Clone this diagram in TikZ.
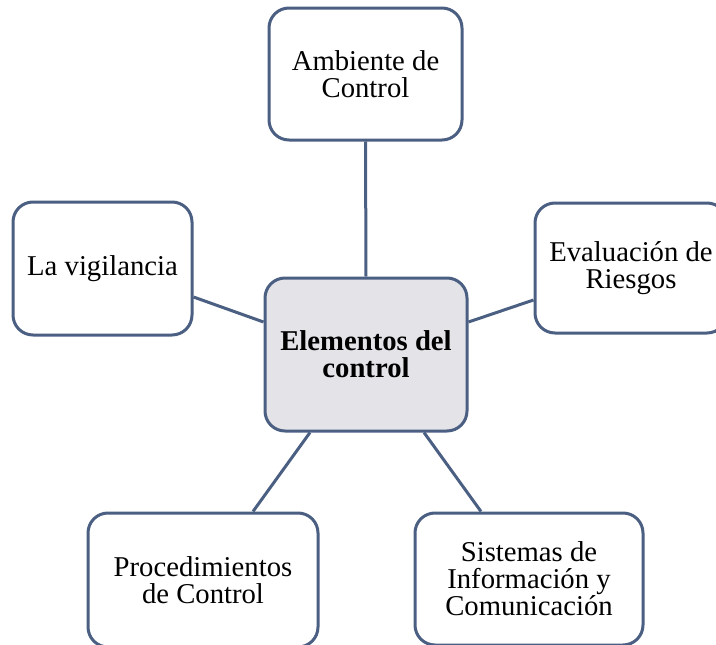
\documentclass[tikz,border=0pt]{standalone}
\usepackage{fontspec}
\setmainfont{Liberation Serif}
\definecolor{edgeblue}{HTML}{4B5F82}
\definecolor{centerfill}{HTML}{E3E3E8}
\tikzset{
  box/.style={draw=edgeblue, line width=3pt, rounded corners=20pt, fill=white,
    align=center, inner sep=0pt, font=\fontsize{28.7}{27}\selectfont},
  mainbox/.style={box, fill=centerfill, font=\fontsize{28.7}{27}\selectfont\bfseries},
  link/.style={draw=edgeblue, line width=3pt}
}
\begin{document}
\begin{tikzpicture}[x=1pt,y=1pt]
\clip (0,0) rectangle (716,-645);
\node[mainbox, minimum width=202pt, minimum height=153pt] (E) at (366,-354.5) {Elementos del\\control};
\node[box, minimum width=193pt, minimum height=132pt] (A) at (365.5,-74) {Ambiente de\\Control};
\node[box, minimum width=179pt, minimum height=133pt] (V) at (102.5,-268.5) {La vigilancia};
\node[box, minimum width=192pt, minimum height=130pt] (R) at (631,-268) {Evaluación de\\Riesgos};
\node[box, minimum width=230pt, minimum height=134pt] (P) at (203,-580) {Procedimientos\\de Control};
\node[box, minimum width=228pt, minimum height=132pt] (S) at (529,-579) {Sistemas de\\Información y\\Comunicación};
\draw[link] (A.south) -- (E.north);
\draw[link] ([yshift=-28.5pt]V.east) -- ([yshift=32.5pt]E.west);
\draw[link] ([yshift=32.5pt]E.east) -- ([yshift=-32pt]R.west);
\draw[link] ([xshift=-56pt]E.south) -- ([xshift=50pt]P.north);
\draw[link] ([xshift=58pt]E.south) -- ([xshift=-48pt]S.north);
\end{tikzpicture}
\end{document}
